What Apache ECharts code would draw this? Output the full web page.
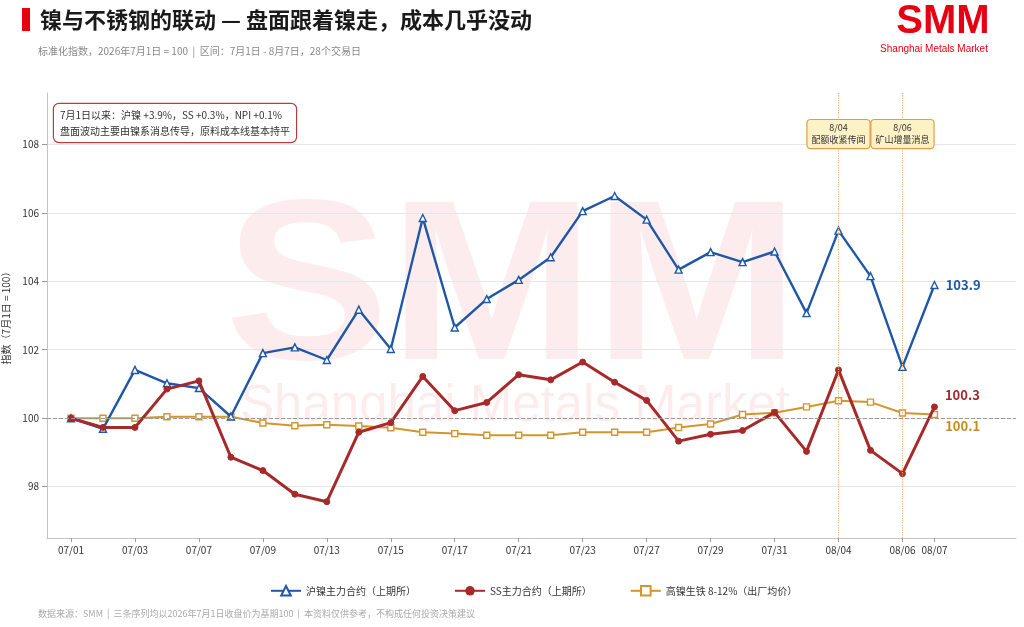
<!DOCTYPE html>
<html><head><meta charset="utf-8">
<script src="https://cdn.jsdelivr.net/npm/echarts@6/dist/echarts.min.js"></script>
<style>html,body{margin:0;padding:0;background:#fff}#c{width:1024px;height:627px}</style>
</head><body><div id="c"></div>
<script>
const dates = ['07/01','07/02','07/03','07/06','07/07','07/08','07/09','07/10','07/13','07/14','07/15','07/16','07/17','07/20','07/21','07/22','07/23','07/24','07/27','07/28','07/29','07/30','07/31','08/03','08/04','08/05','08/06','08/07'];
const nickel = [100.0, 99.69, 101.41, 101.02, 100.88, 100.05, 101.90, 102.07, 101.70, 103.17, 102.02, 105.85, 102.65, 103.48, 104.04, 104.70, 106.05, 106.49, 105.80, 104.34, 104.85, 104.56, 104.87, 103.07, 105.48, 104.15, 101.50, 103.89];
const ss = [100.0, 99.73, 99.73, 100.85, 101.09, 98.86, 98.47, 97.78, 97.56, 99.59, 99.87, 101.22, 100.22, 100.46, 101.27, 101.12, 101.64, 101.05, 100.52, 99.33, 99.53, 99.64, 100.17, 99.03, 101.41, 99.06, 98.38, 100.33];
const npi = [100.0, 100.0, 100.0, 100.04, 100.04, 100.04, 99.86, 99.78, 99.81, 99.77, 99.72, 99.59, 99.55, 99.50, 99.50, 99.50, 99.59, 99.59, 99.59, 99.73, 99.83, 100.11, 100.16, 100.33, 100.51, 100.47, 100.15, 100.11];
const seriesNames = ['沪镍主力合约（上期所）', 'SS主力合约（上期所）', '高镍生铁 8-12%（出厂均价）'];
const yTicks = [98, 100, 102, 104, 106, 108];
const xTickIdx = dates.map((d, i) => i).filter(i => i % 2 === 0 || i === dates.length - 1);
const baseValue = 100;
const eventIdx = [24, 26];
const eventDates = ['8/04', '8/06'];
const eventTexts = ['配额收紧传闻', '矿山增量消息'];
const eventLevel = 108.3;

const FONT = '"Noto Sans CJK SC", "Noto Sans", sans-serif';
const C_BLUE = '#1f57a6', C_RED = '#a62a2a', C_ORANGE = '#d4952b';

function build(vals, color, offset) {
  const last = vals.length - 1;
  return vals.map((v, i) => i === last ? {
    value: [i, v],
    label: { show: true, position: 'right', distance: 7, offset: offset,
      formatter: p => p.value[1].toFixed(1), color: color, fontSize: 13, fontWeight: 'bold', fontFamily: FONT }
  } : [i, v]);
}

const chart = echarts.init(document.getElementById('c'), null, { renderer: 'canvas' });
chart.setOption({
  animation: false,
  textStyle: { fontFamily: FONT },
  grid: { left: 47, right: 8, top: 93, bottom: 89, containLabel: false, outerBoundsMode: 'none' },
  xAxis: {
    type: 'value', min: -0.75, max: 29.55,
    axisLine: { show: true, onZero: false, lineStyle: { color: '#c4c4c4' } },
    axisTick: { show: true, customValues: xTickIdx, length: 4, lineStyle: { color: '#999' } },
    axisLabel: { customValues: xTickIdx, formatter: v => dates[v], color: '#333', fontSize: 10, margin: 7, hideOverlap: false },
    splitLine: { show: false }
  },
  yAxis: {
    type: 'value', min: 96.5, max: 109.5,
    name: '指数（7月1日 = 100）', nameLocation: 'middle', nameGap: 27,
    nameTextStyle: { fontSize: 10, color: '#333' },
    axisLine: { show: true, onZero: false, lineStyle: { color: '#c4c4c4' } },
    axisTick: { show: true, customValues: yTicks, length: 5, lineStyle: { color: '#999' } },
    axisLabel: { customValues: yTicks, color: '#333', fontSize: 10, margin: 8 },
    splitLine: { show: true, lineStyle: { color: '#e6e6e6' } }
  },
  legend: {
    data: seriesNames, left: 265, top: 580, itemGap: 38, itemWidth: 30, itemHeight: 12,
    textStyle: { fontSize: 10, color: '#333' }
  },
  graphic: [
    { type: 'text', z: -10, silent: true, x: 512, y: 296, scaleX: 1.08, style: { x: 0, y: 0, text: 'SMM', textAlign: 'center', textVerticalAlign: 'middle', font: '900 228px "Liberation Sans", Arial, sans-serif', fill: 'rgba(230,0,18,0.075)' } },
    { type: 'text', z: -10, silent: true, style: { x: 515, y: 407, text: 'Shanghai Metals Market', textAlign: 'center', textVerticalAlign: 'middle', font: '51px "Liberation Sans", Arial, sans-serif', fill: 'rgba(230,0,18,0.075)' } },
    { type: 'rect', shape: { x: 22, y: 8, width: 8, height: 23 }, style: { fill: '#e60012' } },
    { type: 'text', style: { x: 40, y: 20, text: '镍与不锈钢的联动 — 盘面跟着镍走，成本几乎没动', textVerticalAlign: 'middle', font: 'bold 22px ' + FONT, fill: '#1a1a1a' } },
    { type: 'text', style: { x: 38, y: 51, text: '标准化指数，2026年7月1日 = 100  |  区间：7月1日 - 8月7日，28个交易日', textVerticalAlign: 'middle', font: '10px ' + FONT, fill: '#888' } },
    { type: 'text', style: { x: 943, y: 22, text: 'SMM', textAlign: 'center', textVerticalAlign: 'middle', font: '900 40px "Liberation Sans", Arial, sans-serif', fill: '#e60012' } },
    { type: 'text', style: { x: 934, y: 49, text: 'Shanghai Metals Market', textAlign: 'center', textVerticalAlign: 'middle', font: '10px "Liberation Sans", Arial, sans-serif', fill: '#e60012' } },
    { type: 'text', z: 10, style: { x: 54, y: 104, text: '7月1日以来：沪镍 +3.9%，SS +0.3%，NPI +0.1%\n盘面波动主要由镍系消息传导，原料成本线基本持平', font: '10px ' + FONT, fill: '#333', lineHeight: 16, backgroundColor: '#fff', borderColor: '#b5403f', borderWidth: 1.2, borderRadius: 5, padding: [3, 6, 3, 6] } },
    { type: 'text', style: { x: 38, y: 614, text: '数据来源：SMM  |  三条序列均以2026年7月1日收盘价为基期100  |  本资料仅供参考，不构成任何投资决策建议', textVerticalAlign: 'middle', font: '9px ' + FONT, fill: '#aaa' } }
  ],
  series: [
    {
      name: seriesNames[0], type: 'line', z: 3, data: build(nickel, C_BLUE, [0, 0]),
      symbol: 'triangle', symbolSize: 7, showAllSymbol: true,
      lineStyle: { color: C_BLUE, width: 2.4 },
      itemStyle: { color: '#fff', borderColor: C_BLUE, borderWidth: 1.4 }
    },
    {
      name: seriesNames[2], type: 'line', z: 2, data: build(npi, '#c98b1f', [0, 12]),
      symbol: 'rect', symbolSize: 6, showAllSymbol: true,
      lineStyle: { color: C_ORANGE, width: 2 },
      itemStyle: { color: '#fff', borderColor: C_ORANGE, borderWidth: 1.4 },
      markLine: {
        silent: true, symbol: 'none', label: { show: false },
        data: [
          { yAxis: baseValue, lineStyle: { color: '#999', type: 'dashed', width: 1 } },
          ...eventIdx.map(i => ({ xAxis: i, lineStyle: { color: '#efb067', type: 'dotted', width: 1.2 } }))
        ]
      },
      markPoint: {
        silent: true, symbol: 'rect', symbolSize: 0,
        data: eventIdx.map((i, k) => ({
          coord: [i, eventLevel],
          label: { show: true, position: 'inside', formatter: eventDates[k] + '\n' + eventTexts[k],
            fontSize: 9, lineHeight: 12, color: '#333', backgroundColor: '#fdf1c6', borderColor: '#e39b45', borderWidth: 1.2, borderRadius: 3, padding: [2, 4] }
        }))
      }
    },
    {
      name: seriesNames[1], type: 'line', z: 4, data: build(ss, C_RED, [0, -12]),
      symbol: 'circle', symbolSize: 6, showAllSymbol: true,
      lineStyle: { color: C_RED, width: 3 },
      itemStyle: { color: C_RED, borderColor: C_RED }
    }
  ]
});
</script></body></html>
